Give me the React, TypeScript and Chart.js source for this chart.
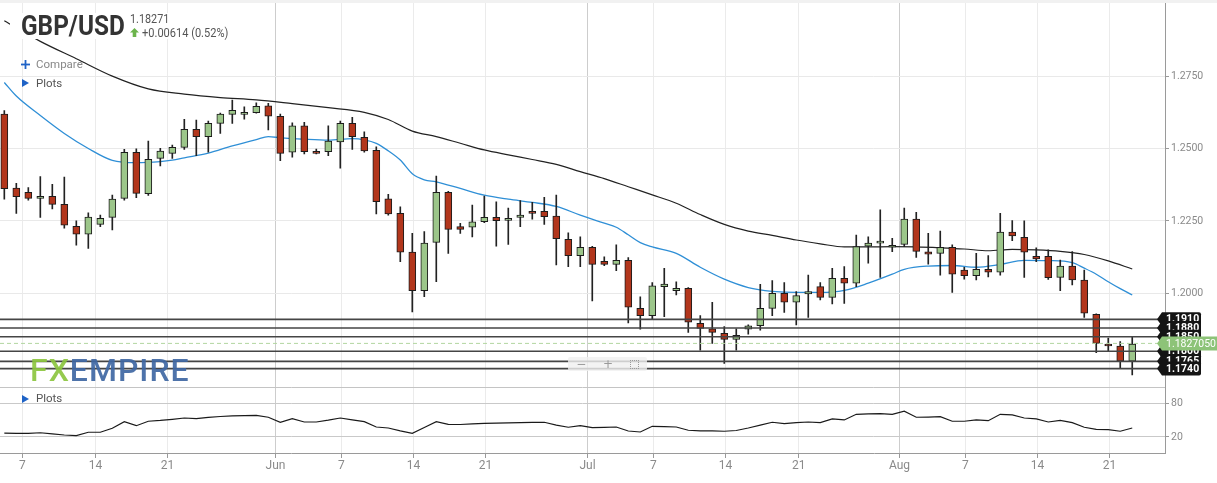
import { useEffect, useRef } from 'react';
import { Chart, registerables } from 'chart.js';

Chart.register(...registerables);

// ---- Daily candles (bar index 0 = 5 May, Sun–Fri sessions) ----
const opens = [
  1.2619, 1.2363, 1.2349, 1.2328, 1.2335, 1.2307, 1.2231, 1.2204, 1.2238, 1.2262,
  1.2328, 1.2487, 1.2344, 1.2466, 1.2483, 1.2504, 1.2566, 1.2541, 1.2587, 1.2618,
  1.2618, 1.2624, 1.2647, 1.2611, 1.2487, 1.2578, 1.2490, 1.2489, 1.2523, 1.2587,
  1.2539, 1.2494, 1.2326, 1.2276, 1.2142, 1.2009, 1.2176, 1.2349, 1.2230, 1.2228,
  1.2247, 1.2262, 1.2252, 1.2262, 1.2283, 1.2283, 1.2267, 1.2186, 1.2130, 1.2159,
  1.2110, 1.2100, 1.2114, 1.1948, 1.1923, 1.2023, 1.2009, 1.2017, 1.1896, 1.1877,
  1.1862, 1.1841, 1.1876, 1.1888, 1.1948, 1.2000, 1.1969, 1.1998, 1.2023, 1.1986,
  1.2052, 1.2035, 1.2163, 1.2173, 1.2159, 1.2169, 1.2256, 1.2143, 1.2138, 1.2159,
  1.2080, 1.2061, 1.2083, 1.2073, 1.2211, 1.2193, 1.2128, 1.2128, 1.2055, 1.2094,
  1.2046, 1.1927, 1.1825, 1.1818, 1.1766,
];
const highs = [
  1.2631, 1.2380, 1.2365, 1.2403, 1.2376, 1.2401, 1.2250, 1.2278, 1.2270, 1.2339,
  1.2497, 1.2499, 1.2526, 1.2501, 1.2512, 1.2601, 1.2598, 1.2595, 1.2622, 1.2667,
  1.2644, 1.2658, 1.2656, 1.2619, 1.2589, 1.2590, 1.2498, 1.2578, 1.2595, 1.2608,
  1.2558, 1.2506, 1.2342, 1.2299, 1.2207, 1.2213, 1.2405, 1.2352, 1.2242, 1.2305,
  1.2336, 1.2316, 1.2294, 1.2320, 1.2314, 1.2331, 1.2339, 1.2209, 1.2195, 1.2162,
  1.2126, 1.2167, 1.2123, 1.1988, 1.2037, 1.2086, 1.2040, 1.2020, 1.1923, 1.1969,
  1.1885, 1.1877, 1.1891, 1.2031, 1.2044, 1.2037, 1.2006, 1.2063, 1.2037, 1.2086,
  1.2092, 1.2201, 1.2195, 1.2288, 1.2190, 1.2294, 1.2280, 1.2207, 1.2215, 1.2167,
  1.2090, 1.2138, 1.2130, 1.2276, 1.2251, 1.2250, 1.2157, 1.2150, 1.2115, 1.2144,
  1.2080, 1.1929, 1.1845, 1.1833, 1.1850,
];
const lows = [
  1.2325, 1.2276, 1.2322, 1.2262, 1.2291, 1.2225, 1.2166, 1.2155, 1.2230, 1.2219,
  1.2322, 1.2330, 1.2338, 1.2440, 1.2466, 1.2497, 1.2475, 1.2487, 1.2552, 1.2587,
  1.2601, 1.2622, 1.2564, 1.2458, 1.2470, 1.2481, 1.2481, 1.2475, 1.2432, 1.2497,
  1.2487, 1.2274, 1.2270, 1.2109, 1.1936, 1.1988, 1.2040, 1.2138, 1.2207, 1.2195,
  1.2244, 1.2163, 1.2169, 1.2230, 1.2256, 1.2238, 1.2098, 1.2092, 1.2092, 1.1974,
  1.2095, 1.2078, 1.1898, 1.1876, 1.1910, 1.1919, 1.1994, 1.1865, 1.1804, 1.1827,
  1.1758, 1.1804, 1.1859, 1.1873, 1.1923, 1.1934, 1.1891, 1.1917, 1.1977, 1.1963,
  1.1965, 1.2023, 1.2104, 1.2055, 1.2144, 1.2161, 1.2124, 1.2101, 1.2063, 1.2003,
  1.2049, 1.2046, 1.2057, 1.2063, 1.2182, 1.2055, 1.2109, 1.2048, 1.2009, 1.2029,
  1.1917, 1.1795, 1.1802, 1.1743, 1.1718,
];
const closes = [
  1.2361, 1.2334, 1.2328, 1.2335, 1.2307, 1.2235, 1.2204, 1.2263, 1.2259, 1.2325,
  1.2487, 1.2345, 1.2463, 1.2491, 1.2504, 1.2566, 1.2541, 1.2587, 1.2619, 1.2632,
  1.2625, 1.2646, 1.2612, 1.2483, 1.2578, 1.2489, 1.2483, 1.2526, 1.2587, 1.2541,
  1.2492, 1.2316, 1.2274, 1.2142, 1.2009, 1.2173, 1.2349, 1.2221, 1.2221, 1.2247,
  1.2262, 1.2251, 1.2259, 1.2270, 1.2276, 1.2265, 1.2189, 1.2130, 1.2159, 1.2100,
  1.2100, 1.2114, 1.1952, 1.1923, 1.2026, 1.2032, 1.2017, 1.1900, 1.1879, 1.1865,
  1.1841, 1.1855, 1.1888, 1.1948, 1.2000, 1.1969, 1.1992, 1.2006, 1.1986, 1.2052,
  1.2035, 1.2161, 1.2173, 1.2180, 1.2166, 1.2256, 1.2145, 1.2135, 1.2159, 1.2066,
  1.2061, 1.2083, 1.2073, 1.2211, 1.2198, 1.2142, 1.2119, 1.2054, 1.2094, 1.2046,
  1.1931, 1.1827, 1.1818, 1.1766, 1.1825,
];

// ---- Moving averages (read at sampled bars) ----
const ma20X = [0, 1, 3, 5, 7, 9, 11, 13, 14, 15, 17, 19, 21, 22, 23, 25, 27, 29, 30, 31, 32, 33, 34, 35, 36, 38, 40, 42, 44, 46, 48, 50, 51, 52, 53, 54, 56, 58, 60, 62, 64, 66, 68, 70, 72, 74, 75, 77, 79, 81, 83, 85, 87, 89, 90, 91, 92, 93, 94];
const ma20Y = [1.2728, 1.2681, 1.2614, 1.2552, 1.2500, 1.2459, 1.2451, 1.2455, 1.2460, 1.2468, 1.2484, 1.2509, 1.2531, 1.2541, 1.2537, 1.2532, 1.2529, 1.2534, 1.2530, 1.2518, 1.2492, 1.2460, 1.2413, 1.2392, 1.2385, 1.2362, 1.2339, 1.2325, 1.2314, 1.2300, 1.2270, 1.2242, 1.2228, 1.2202, 1.2175, 1.2160, 1.2138, 1.2090, 1.2049, 1.2020, 1.2007, 1.2003, 1.2003, 1.2010, 1.2035, 1.2066, 1.2083, 1.2094, 1.2096, 1.2090, 1.2100, 1.2114, 1.2113, 1.2106, 1.2087, 1.2066, 1.2040, 1.2016, 1.1994];
const ma50X = [0, 3, 6, 9, 12, 15, 18, 21, 24, 27, 30, 32, 34, 36, 38, 40, 42, 44, 46, 48, 50, 52, 54, 56, 58, 60, 62, 64, 66, 68, 70, 72, 74, 76, 78, 80, 82, 84, 86, 88, 90, 92, 94];
const ma50Y = [1.2941, 1.2870, 1.2810, 1.2750, 1.2706, 1.2688, 1.2676, 1.2668, 1.2655, 1.2641, 1.2625, 1.2600, 1.2560, 1.2541, 1.2518, 1.2495, 1.2478, 1.2462, 1.2445, 1.2420, 1.2396, 1.2368, 1.2340, 1.2311, 1.2272, 1.2238, 1.2215, 1.2200, 1.2184, 1.2171, 1.2160, 1.2160, 1.2161, 1.2160, 1.2157, 1.2153, 1.2147, 1.2152, 1.2150, 1.2145, 1.2134, 1.2112, 1.2084];

// ---- Lower pane oscillator ----
const rsiValues = [
  27.0, 26.6, 26.6, 27.5, 25.5, 23.5, 22.3, 28.4, 28.4, 35.5,
  47.2, 40.1, 48.0, 49.5, 51.5, 53.8, 52.6, 54.8, 56.5, 57.4,
  58.0, 58.6, 55.1, 46.2, 52.6, 46.7, 46.7, 50.0, 53.8, 50.5,
  47.2, 37.8, 36.0, 31.0, 26.6, 37.0, 47.2, 42.6, 42.2, 43.5,
  44.4, 44.8, 45.2, 45.6, 46.0, 46.2, 41.0, 37.3, 40.1, 36.6,
  37.2, 37.8, 30.7, 28.9, 39.0, 38.5, 37.8, 32.0, 31.0, 30.8,
  30.2, 31.5, 36.0, 41.0, 46.2, 43.7, 45.5, 46.7, 45.5, 52.1,
  50.3, 60.4, 61.0, 61.5, 60.4, 65.8, 55.1, 55.5, 56.1, 48.0,
  48.0, 50.3, 49.0, 60.4, 59.2, 53.8, 52.1, 46.7, 49.7, 45.5,
  37.3, 33.7, 33.0, 30.2, 36.0,
];

// ---- Horizontal levels & price ----
const levelValues = [1.1910, 1.1880, 1.1850, 1.1800, 1.1765, 1.1740];
const lastPrice = 1.182705;
const headerPrice = '1.18271';
const headerChange = '+0.00614 (0.52%)';

// ---- Axes ----
const xTickPositions = [1.5, 7.6, 13.6, 22.6, 28.1, 34.1, 40.1, 48.6, 54.1, 60.1, 66.2, 74.6, 80.1, 86.1, 92.1];
const xTickLabels = ['7', '14', '21', 'Jun', '7', '14', '21', 'Jul', '7', '14', '21', 'Aug', '7', '14', '21'];
const monthLabels = ['Jun', 'Jul', 'Aug'];
const priceTicks = [1.2, 1.225, 1.25, 1.275];
const rsiTicks = [20, 80];

const RED = '#b2361c';
const GREEN = '#9cc68a';

function drawTag(ctx: CanvasRenderingContext2D, x0: number, x1: number, y: number, fill: string, text: string, font: string) {
  const h = 7;
  ctx.beginPath();
  ctx.moveTo(x0, y);
  ctx.lineTo(x0 + 5, y - h);
  ctx.lineTo(x1 - 2, y - h);
  ctx.quadraticCurveTo(x1, y - h, x1, y - h + 2);
  ctx.lineTo(x1, y + h - 2);
  ctx.quadraticCurveTo(x1, y + h, x1 - 2, y + h);
  ctx.lineTo(x0 + 5, y + h);
  ctx.closePath();
  ctx.fillStyle = fill;
  ctx.fill();
  ctx.fillStyle = '#ffffff';
  ctx.font = font;
  ctx.textBaseline = 'middle';
  ctx.textAlign = 'left';
  ctx.fillText(text, x0 + 9, y + 0.5);
}

const tagsPlugin = {
  id: 'priceTags',
  afterDraw(chart: any) {
    const ctx = chart.ctx as CanvasRenderingContext2D;
    const ys = chart.scales.y;
    const rs = chart.scales.rsi;
    const area = chart.chartArea;
    ctx.save();
    ctx.strokeStyle = '#c4c4c4';
    ctx.lineWidth = 1;
    const sy = Math.round(rs.top) + 0.5;
    ctx.beginPath();
    ctx.moveTo(area.left, sy);
    ctx.lineTo(area.right, sy);
    ctx.stroke();
    const x0 = area.right - 8;
    levelValues.forEach((v) => {
      drawTag(ctx, x0, x0 + 44, ys.getPixelForValue(v), '#141414', v.toFixed(4), 'bold 10.5px Roboto');
    });
    drawTag(ctx, x0, chart.width + 4, ys.getPixelForValue(lastPrice), '#8dc378', lastPrice.toFixed(7), '10.5px Roboto');
    ctx.restore();
  },
};

export default function App() {
  const canvasRef = useRef<HTMLCanvasElement | null>(null);

  useEffect(() => {
    if (!canvasRef.current) return;
    Chart.defaults.font.family = 'Roboto';
    const X_MIN = -0.36;
    const X_MAX = 96.73;

    const bodies = opens.map((o, i) => ({ x: i, y: [o, closes[i]] }));
    const wicks = lows.map((l, i) => ({ x: i, y: [l, highs[i]] }));
    const bodyColors = opens.map((o, i) => (closes[i] >= o ? GREEN : RED));

    const levelSets = levelValues.map((v) => ({
      type: 'line' as const,
      data: [{ x: X_MIN, y: v }, { x: X_MAX, y: v }],
      borderColor: '#454545',
      borderWidth: 1.6,
      pointRadius: 0,
      yAxisID: 'y',
      order: 0,
    }));

    const chart = new Chart(canvasRef.current, {
      type: 'bar',
      data: {
        datasets: [
          ...levelSets,
          {
            type: 'line',
            data: [{ x: X_MIN, y: lastPrice }, { x: X_MAX, y: lastPrice }],
            borderColor: '#b2d6a0',
            borderWidth: 1,
            borderDash: [4, 3],
            pointRadius: 0,
            yAxisID: 'y',
            order: 0,
          },
          {
            type: 'bar',
            data: bodies as any,
            backgroundColor: bodyColors,
            borderColor: '#1c1c1c',
            borderWidth: 1,
            borderSkipped: false,
            barThickness: 7,
            grouped: false,
            yAxisID: 'y',
            order: 1,
          },
          {
            type: 'bar',
            data: wicks as any,
            backgroundColor: '#222222',
            borderWidth: 0,
            barThickness: 1,
            grouped: false,
            yAxisID: 'y',
            order: 2,
          },
          {
            type: 'line',
            data: ma20X.map((x, i) => ({ x, y: ma20Y[i] })),
            borderColor: '#2f8fd6',
            borderWidth: 1.3,
            pointRadius: 0,
            cubicInterpolationMode: 'monotone',
            yAxisID: 'y',
            order: 3,
          },
          {
            type: 'line',
            data: ma50X.map((x, i) => ({ x, y: ma50Y[i] })),
            borderColor: '#222222',
            borderWidth: 1.2,
            pointRadius: 0,
            cubicInterpolationMode: 'monotone',
            yAxisID: 'y',
            order: 3,
          },
          {
            type: 'line',
            data: rsiValues.map((v, i) => ({ x: i, y: v })),
            borderColor: '#1a1a1a',
            borderWidth: 1.2,
            pointRadius: 0,
            yAxisID: 'rsi',
            order: 3,
          },
        ] as any,
      },
      options: {
        responsive: false,
        animation: false,
        devicePixelRatio: 1,
        layout: { padding: 0 },
        plugins: { legend: { display: false }, tooltip: { enabled: false } },
        scales: {
          x: {
            type: 'linear',
            min: X_MIN,
            max: X_MAX,
            offset: false,
            afterBuildTicks: (scale: any) => {
              scale.ticks = xTickPositions.map((v) => ({ value: v }));
            },
            afterFit: (scale: any) => {
              scale.height = 30;
              scale.paddingLeft = 0;
              scale.paddingRight = 0;
            },
            ticks: {
              autoSkip: false,
              maxRotation: 0,
              padding: 1,
              color: '#8a8a8a',
              font: { size: 12 },
              callback: (_v: any, i: number) => xTickLabels[i],
            },
            grid: {
              offset: false,
              color: (c: any) => (monthLabels.includes(xTickLabels[c.index]) ? '#cdcdcd' : '#ebebeb'),
              tickColor: '#9a9a9a',
              tickLength: 5,
            },
            border: { color: '#9a9a9a' },
          },
          y: {
            type: 'linear',
            position: 'right',
            stack: 'panes',
            stackWeight: 386.7,
            min: 1.16775,
            max: 1.30128,
            afterBuildTicks: (scale: any) => {
              scale.ticks = priceTicks.map((v) => ({ value: v }));
            },
            afterFit: (scale: any) => {
              scale.width = 52;
              scale.paddingTop = 0;
              scale.paddingBottom = 0;
            },
            ticks: {
              padding: 2,
              color: '#8a8a8a',
              font: { size: 10.5 },
              callback: (v: any) => Number(v).toFixed(4),
            },
            grid: { color: '#e9e9e9', tickColor: '#9a9a9a', tickLength: 4 },
            border: { color: '#9a9a9a' },
          },
          rsi: {
            type: 'linear',
            position: 'right',
            stack: 'panes',
            stackWeight: 66.3,
            min: -8.5,
            max: 109.5,
            afterBuildTicks: (scale: any) => {
              scale.ticks = rsiTicks.map((v) => ({ value: v }));
            },
            afterFit: (scale: any) => {
              scale.width = 52;
              scale.paddingTop = 0;
              scale.paddingBottom = 0;
            },
            ticks: {
              padding: 2,
              color: '#8a8a8a',
              font: { size: 10.5 },
            },
            grid: { color: '#c9c9c9', tickColor: '#9a9a9a', tickLength: 4 },
            border: { color: '#9a9a9a' },
          },
        },
      } as any,
      plugins: [tagsPlugin],
    });
    return () => chart.destroy();
  }, []);

  const txt = (extra: any) => ({
    position: 'absolute' as const,
    whiteSpace: 'nowrap' as const,
    lineHeight: 1,
    fontFamily: 'Roboto, sans-serif',
    transformOrigin: 'left top',
    ...extra,
  });

  return (
    <div style={{ position: 'absolute', left: 0, top: 0, width: 1217, height: 483, background: '#ffffff', overflow: 'hidden' }}>
      <canvas ref={canvasRef} width={1217} height={483} style={{ position: 'absolute', left: 0, top: 0, width: 1217, height: 483 }} />
      <div style={{ position: 'absolute', left: 0, top: 0, width: 1217, height: 3, background: '#f1f1f1' }} />
      <div style={{ position: 'absolute', left: 10, top: 13, width: 225, height: 26, background: '#ffffff' }} />
      <div style={txt({ left: 21, top: 12.3, fontSize: 28, fontWeight: 700, color: '#333333', transform: 'scaleX(0.87)' })}>GBP/USD</div>
      <div style={txt({ left: 130, top: 13.4, fontSize: 12, color: '#555555', transform: 'scaleX(0.9)' })}>{headerPrice}</div>
      <svg style={{ position: 'absolute', left: 130, top: 28 }} width={9} height={9} viewBox="0 0 9 9">
        <polygon points="4.5,0 9,4.5 6.3,4.5 6.3,9 2.7,9 2.7,4.5 0,4.5" fill="#6cb44c" />
      </svg>
      <div style={txt({ left: 142, top: 27.4, fontSize: 12, color: '#555555', transform: 'scaleX(0.92)' })}>{headerChange}</div>
      <svg style={{ position: 'absolute', left: 21, top: 60 }} width={9} height={9} viewBox="0 0 9 9">
        <rect x={0} y={3.6} width={9} height={1.8} fill="#1f63c6" />
        <rect x={3.6} y={0} width={1.8} height={9} fill="#1f63c6" />
      </svg>
      <div style={txt({ left: 36, top: 58.5, fontSize: 11.5, color: '#888888' })}>Compare</div>
      <svg style={{ position: 'absolute', left: 22, top: 79 }} width={7} height={8} viewBox="0 0 7 8">
        <polygon points="0,0 7,4 0,8" fill="#1f63c6" />
      </svg>
      <div style={txt({ left: 36, top: 77.5, fontSize: 11.5, color: '#555555' })}>Plots</div>
      <svg style={{ position: 'absolute', left: 22, top: 395 }} width={7} height={8} viewBox="0 0 7 8">
        <polygon points="0,0 7,4 0,8" fill="#1f63c6" />
      </svg>
      <div style={txt({ left: 36, top: 393, fontSize: 11.5, color: '#555555' })}>Plots</div>
      <div style={txt({ left: 30, top: 354, fontSize: 32, fontWeight: 500, letterSpacing: '1px', opacity: 0.92 })}>
        <span style={{ color: '#8cc63f' }}>FX</span>
        <span style={{ color: '#3f68a3' }}>EMPIRE</span>
      </div>
      <div style={{ position: 'absolute', left: 568, top: 357, width: 79, height: 14, background: 'rgba(240,240,240,0.8)', borderRadius: 2, display: 'flex', alignItems: 'center', justifyContent: 'space-around', color: '#9a9a9a', fontFamily: 'DejaVu Sans, sans-serif', fontSize: 12, lineHeight: 1 }}>
        <span>−</span>
        <span>+</span>
        <span style={{ display: 'inline-block', width: 7, height: 7, border: '1.5px dotted #9a9a9a' }} />
      </div>
    </div>
  );
}
